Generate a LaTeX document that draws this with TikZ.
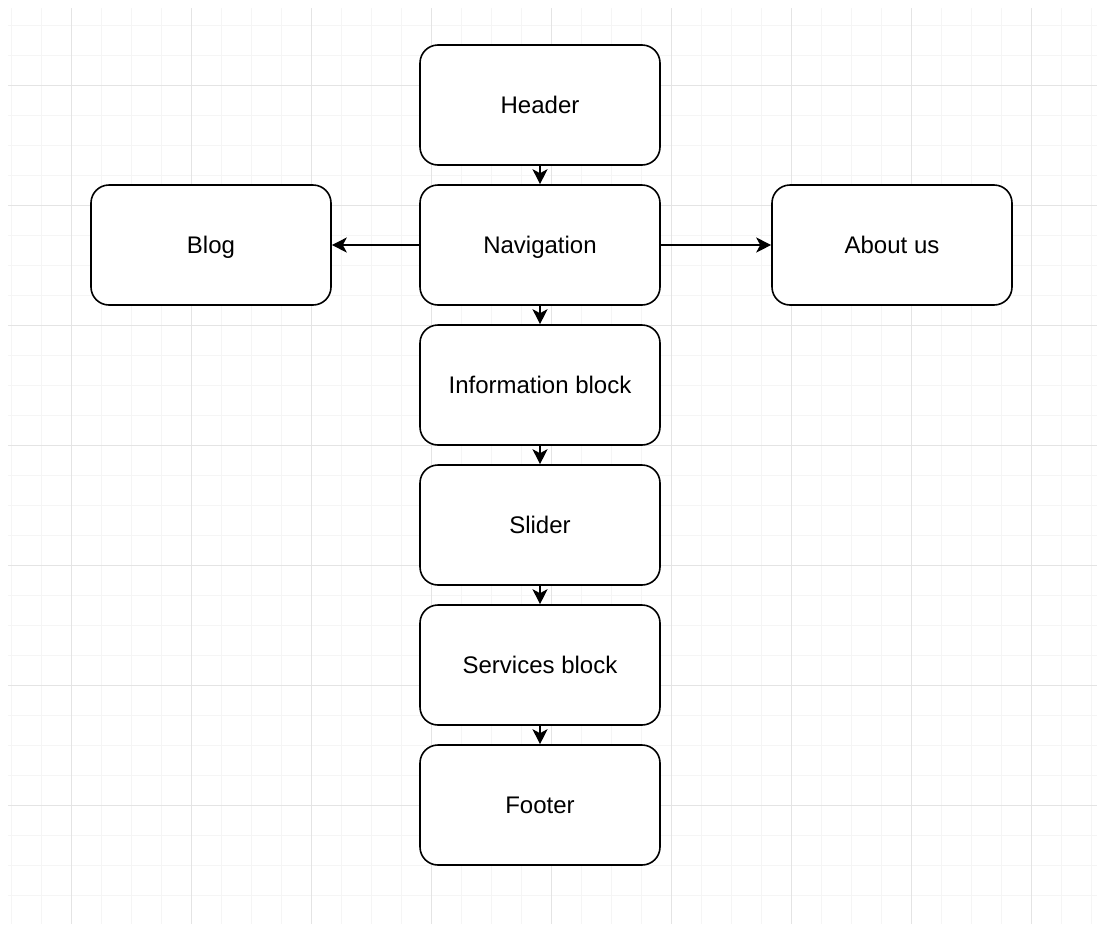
\documentclass[tikz,border=0pt]{standalone}
\usepackage{fontspec}
\setmainfont{Liberation Sans}
\usepackage{xcolor}
\usetikzlibrary{arrows.meta}
\definecolor{minorgrid}{RGB}{245,245,245}
\definecolor{majorgrid}{RGB}{228,228,228}
\tikzstyle{block}=[rectangle, draw, rounded corners=18, line width=1.6, minimum width=240, minimum height=120, text height=17pt, text depth=0pt, font=\fontsize{24}{28}\selectfont]
\tikzstyle{link}=[-{Stealth[length=15pt,width=15pt,inset=4pt]}, line width=1.5]
\begin{document}
\begin{tikzpicture}[x=1pt,y=-1pt]
  \useasboundingbox (0,0) rectangle (1097,924);
  %% Grid
  \foreach \x in {11,41,...,1091} \draw[minorgrid,line width=1] (\x,8) -- (\x,924);
  \foreach \y in {25,55,...,919} \draw[minorgrid,line width=1] (8,\y) -- (1097,\y);
  \foreach \x in {71,191,...,1031} \draw[majorgrid,line width=1] (\x,8) -- (\x,924);
  \foreach \y in {85,205,...,805} \draw[majorgrid,line width=1] (8,\y) -- (1097,\y);

  \draw (540,105) node[block, fill=white] (H) {Header};
  \draw (540,245) node[block, fill=white] (N) {Navigation};
  \draw (540,385) node[block, fill=white] (I) {Information block};
  \draw (540,525) node[block, fill=white] (S) {Slider};
  \draw (540,665) node[block, fill=white] (SB) {Services block};
  \draw (540,805) node[block, fill=white] (F) {Footer};

  \draw (211,245) node[block, fill=white] (B) {Blog};
  \draw (892,245) node[block, fill=white] (A) {About us};

  \draw[link] (H) -- (N);
  \draw[link] (N) -- (I);
  \draw[link] (I) -- (S);
  \draw[link] (S) -- (SB);
  \draw[link] (SB) -- (F);

  \draw[link] (N) -- (B);
  \draw[link] (N) -- (A);
\end{tikzpicture}
\end{document}
